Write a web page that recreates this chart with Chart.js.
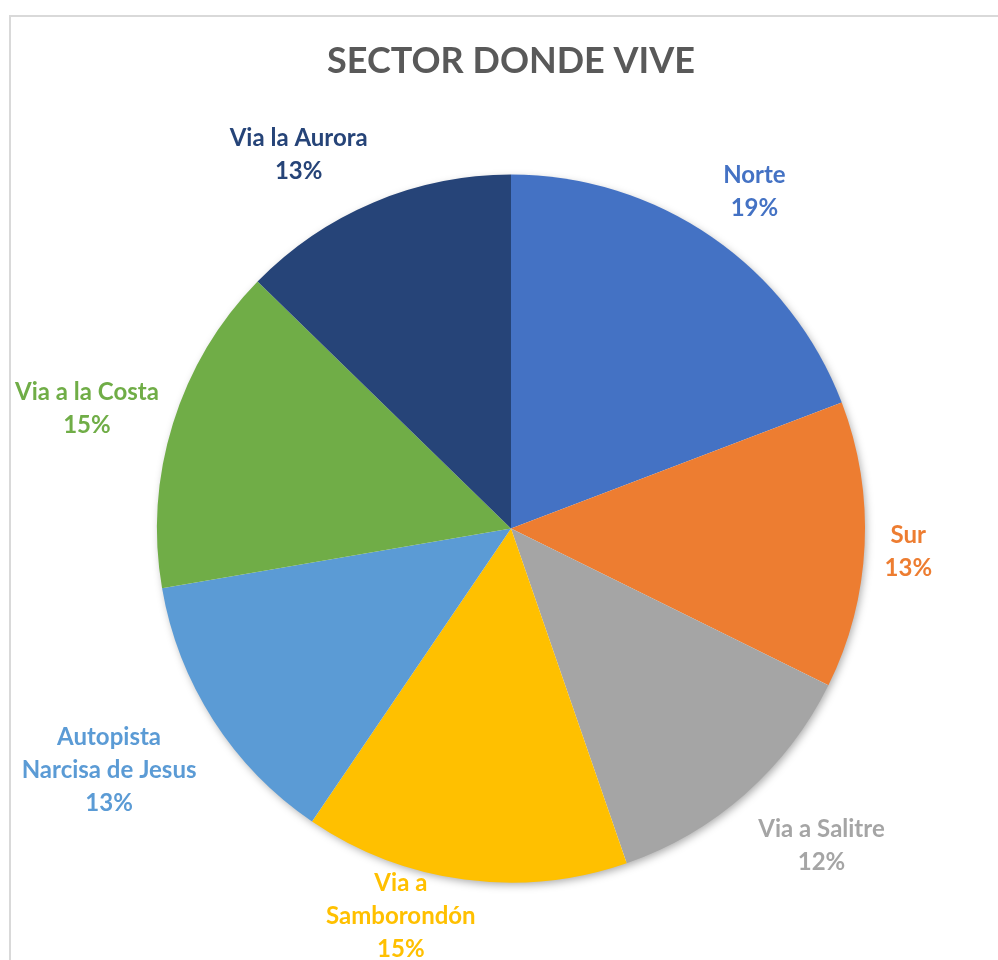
<!DOCTYPE html>
<html>
<head>
<meta charset="utf-8">
<script src="https://cdn.jsdelivr.net/npm/chart.js@4.4.1/dist/chart.umd.min.js"></script>
<style>
  html, body { margin: 0; padding: 0; background: #fff; }
  #wrap { position: relative; width: 998px; height: 960px; overflow: hidden; }
  #frame { position: absolute; left: 9px; top: 15px; width: 1000px; height: 1000px;
           border: 2px solid #d9d9d9; box-sizing: border-box; }
  #chartSector { position: absolute; left: 0; top: 0; }
</style>
</head>
<body>
<div id="wrap">
  <div id="frame"></div>
  <canvas id="chartSector" width="998" height="960"></canvas>
</div>
<script>
// datos del grafico
const categorias = [
  'Norte',
  'Sur',
  'Via a Salitre',
  ['Via a', 'Samborondón'],
  ['Autopista', 'Narcisa de Jesus'],
  'Via a la Costa',
  'Via la Aurora'
];
const valores = [19.2, 13.1, 12.4, 14.8, 12.8, 15.0, 12.7];
const colores = ['#4472C4', '#ED7D31', '#A5A5A5', '#FFC000', '#5B9BD5', '#70AD47', '#264478'];

const FONT = 'Lato, "Open Sans", sans-serif';

// sombra suave debajo del pastel
const sombraPie = {
  id: 'sombraPie',
  beforeDatasetsDraw(chart) {
    const arc = chart.getDatasetMeta(0).data[0];
    if (!arc) return;
    const ctx = chart.ctx;
    ctx.save();
    ctx.shadowColor = 'rgba(0,0,0,0.35)';
    ctx.shadowBlur = 9;
    ctx.shadowOffsetX = 2;
    ctx.shadowOffsetY = 3;
    ctx.fillStyle = '#ffffff';
    ctx.beginPath();
    ctx.arc(arc.x, arc.y, arc.outerRadius - 1, 0, Math.PI * 2);
    ctx.fill();
    ctx.restore();
  }
};

// etiquetas fuera del pastel (nombre + porcentaje), tipo "ajuste perfecto"
const etiquetas = {
  id: 'etiquetas',
  afterDatasetsDraw(chart) {
    const ctx = chart.ctx;
    const meta = chart.getDatasetMeta(0);
    const total = valores.reduce((a, b) => a + b, 0);
    const lineH = 33;
    const pad = 20;
    const minX = 15, maxX = chart.width - 5, maxY = chart.height + 2;
    const clamp = (v) => Math.max(-1, Math.min(1, v));

    ctx.save();
    ctx.font = 'bold 24px ' + FONT;
    ctx.textAlign = 'center';
    ctx.textBaseline = 'middle';

    meta.data.forEach((arc, i) => {
      const nombre = Array.isArray(categorias[i]) ? categorias[i] : [categorias[i]];
      const lineas = nombre.concat([Math.round(valores[i] / total * 100) + '%']);
      const w = Math.max(...lineas.map(t => ctx.measureText(t).width));
      const h = lineas.length * lineH;

      const mid = (arc.startAngle + arc.endAngle) / 2;
      const dx = Math.cos(mid), dy = Math.sin(mid);
      const r = arc.outerRadius + pad;
      let cx = arc.x + dx * r + clamp(dx * 2.5) * w / 2;
      let cy = arc.y + dy * r + clamp(dy * 1.3) * h / 2;

      // si no cabe abajo, se desliza por el borde
      if (cy > maxY - h / 2) {
        const d = cy - (maxY - h / 2);
        cy -= d;
        cx += Math.sign(dx) * d;
      }
      cx = Math.min(Math.max(cx, minX + w / 2), maxX - w / 2);

      ctx.fillStyle = colores[i];
      lineas.forEach((t, k) => {
        ctx.fillText(t, cx, cy - h / 2 + lineH * (k + 0.5) + 4);
      });
    });
    ctx.restore();
  }
};

new Chart(document.getElementById('chartSector'), {
  type: 'pie',
  data: {
    labels: categorias,
    datasets: [{
      data: valores,
      backgroundColor: colores,
      borderWidth: 0
    }]
  },
  options: {
    responsive: false,
    animation: false,
    layout: {
      padding: { top: 40, left: 157, right: 133, bottom: 77 }
    },
    plugins: {
      legend: { display: false },
      tooltip: { enabled: false },
      title: {
        display: true,
        text: 'SECTOR DONDE VIVE',
        color: '#595959',
        font: { family: FONT, size: 36, weight: 'bold', lineHeight: 1.2 },
        padding: { top: 0, bottom: 91 }
      }
    }
  },
  plugins: [sombraPie, etiquetas]
});
</script>
</body>
</html>
